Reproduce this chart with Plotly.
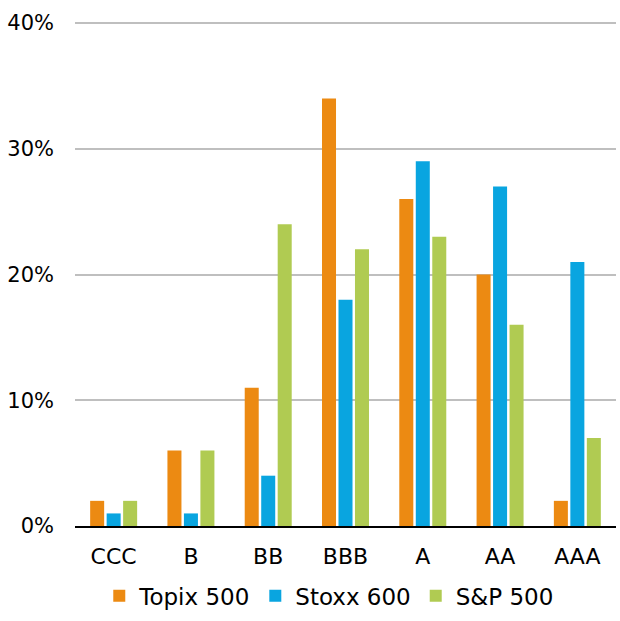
import plotly.graph_objects as go

categories = ["CCC", "B", "BB", "BBB", "A", "AA", "AAA"]
topix = [2, 6, 11, 34, 26, 20, 2]
stoxx = [1, 1, 4, 18, 29, 27, 21]
sp500 = [2, 6, 24, 22, 23, 16, 7]
series_names = ["Topix 500", "Stoxx 600", "S&P 500"]
colors = ["#EC8A12", "#09A5E0", "#B0CB52"]
y_ticks = [0, 10, 20, 30, 40]
y_ticklabels = ["0%", "10%", "20%", "30%", "40%"]

fig = go.Figure()
for name, vals, c in zip(series_names, [topix, stoxx, sp500], colors):
    fig.add_trace(go.Bar(x=categories, y=vals, name=name, marker_color=c,
                         marker_line_width=0))

font = dict(family="DejaVu Sans", size=21, color="#000000")
xfont = dict(family="DejaVu Sans", size=22, color="#000000")
lfont = dict(family="DejaVu Sans", size=23, color="#000000")
fig.update_layout(
    width=620, height=621,
    margin=dict(l=75, r=4, t=21, b=92),
    paper_bgcolor="white", plot_bgcolor="white",
    barmode="group", bargap=0.36, bargroupgap=0.15,
    font=font,
    showlegend=True,
    legend=dict(orientation="h", x=0.47, xanchor="center", y=-0.181, yanchor="bottom",
                font=lfont, itemwidth=30, tracegroupgap=0),
    xaxis=dict(showline=True, linecolor="#000000", linewidth=2, ticks="",
               tickfont=xfont, showgrid=False, ticklabelstandoff=10),
    yaxis=dict(range=[0, 40.16], tickvals=y_ticks, ticktext=y_ticklabels, showgrid=True,
               gridcolor="#BFBFBF", gridwidth=2, zeroline=False,
               tickfont=font, ticklabelstandoff=20, showline=False),
)
fig.write_html("out.html")
